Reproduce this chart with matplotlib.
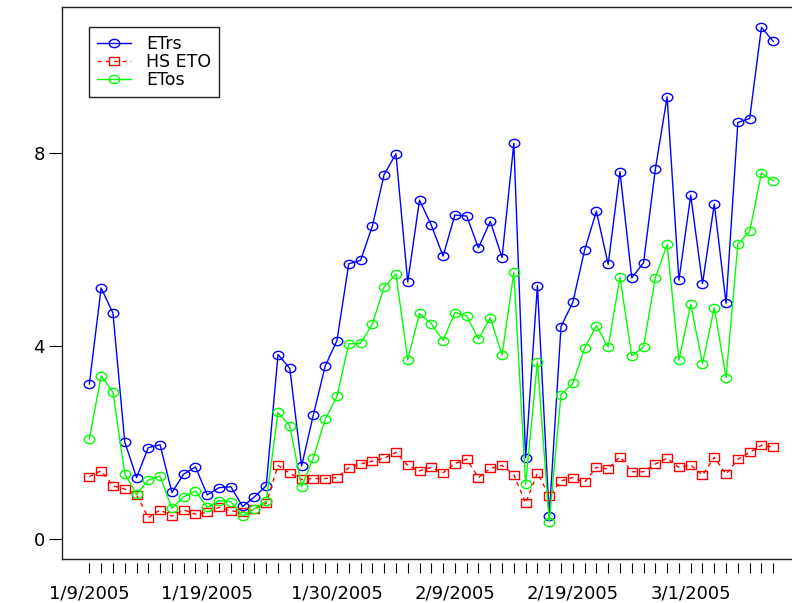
import numpy as np
import matplotlib
matplotlib.use("Agg")
import matplotlib.pyplot as plt
from matplotlib.path import Path
from matplotlib.transforms import Affine2D

# ---- data (daily, 1/9/2005 .. 3/8/2005) ----
etrs = [3.22, 5.21, 4.69, 2.02, 1.28, 1.90, 1.96, 0.97, 1.35, 1.50,
        0.92, 1.07, 1.09, 0.68, 0.88, 1.11, 3.83, 3.54, 1.52, 2.58,
        3.59, 4.12, 5.71, 5.78, 6.49, 7.56, 7.99, 5.33, 7.03, 6.51,
        5.87, 6.72, 6.70, 6.04, 6.59, 5.84, 8.21, 1.69, 5.26, 0.48,
        4.41, 4.91, 5.99, 6.80, 5.70, 7.62, 5.42, 5.73, 7.67, 9.17,
        5.37, 7.13, 5.30, 6.95, 4.89, 8.64, 8.72, 10.61, 10.32]
hs_eto = [1.30, 1.42, 1.11, 1.04, 0.92, 0.45, 0.61, 0.48, 0.61, 0.52,
          0.56, 0.66, 0.59, 0.56, 0.62, 0.75, 1.53, 1.37, 1.24, 1.26,
          1.26, 1.28, 1.48, 1.56, 1.62, 1.68, 1.80, 1.53, 1.42, 1.49,
          1.38, 1.57, 1.66, 1.28, 1.47, 1.53, 1.34, 0.75, 1.37, 0.90,
          1.21, 1.28, 1.18, 1.49, 1.46, 1.71, 1.40, 1.40, 1.56, 1.68,
          1.49, 1.54, 1.33, 1.70, 1.35, 1.66, 1.80, 1.95, 1.91]
etos = [2.08, 3.39, 3.05, 1.36, 0.93, 1.23, 1.31, 0.64, 0.88, 1.00,
        0.66, 0.80, 0.78, 0.48, 0.63, 0.79, 2.63, 2.35, 1.09, 1.69,
        2.49, 2.96, 4.05, 4.06, 4.46, 5.23, 5.50, 3.72, 4.68, 4.47,
        4.12, 4.70, 4.63, 4.15, 4.59, 3.82, 5.53, 1.14, 3.68, 0.36,
        3.00, 3.23, 3.96, 4.43, 3.98, 5.43, 3.80, 3.99, 5.42, 6.11,
        3.71, 4.87, 3.64, 4.80, 3.35, 6.12, 6.38, 7.59, 7.43]
date_labels = ["1/9/2005", "1/19/2005", "1/30/2005", "2/9/2005", "2/19/2005", "3/1/2005"]
date_label_pos = [1, 11, 22, 32, 42, 52]
y_ticks = [0, 4, 8]
series_names = ["ETrs", "HS ETO", "ETos"]

x = np.arange(1, len(etrs) + 1)

# stretched markers (reference image is horizontally stretched)
ell = Path.unit_circle().transformed(Affine2D().scale(1.0, 0.78))
sq = Path([(-1, -0.78), (1, -0.78), (1, 0.78), (-1, 0.78), (-1, -0.78)],
          [Path.MOVETO, Path.LINETO, Path.LINETO, Path.LINETO, Path.CLOSEPOLY])

plt.rcParams['font.family'] = ['DejaVu Sans']
fig = plt.figure(figsize=(7.92, 6.03), dpi=100)
ax = fig.add_axes([62.0 / 792, (603 - 559.3) / 603, 738.6 / 792, 552.0 / 603])

ms = 7.6
mew = 1.0
ax.plot(x, etrs, color='#0000FF', lw=1.0, marker=ell, ms=ms, mfc='none', mew=mew,
        label=series_names[0])
ax.plot(x, hs_eto, color='#FF0000', lw=1.0, ls=(0, (3, 3)), marker=sq, ms=ms, mfc='none',
        mew=mew, label=series_names[1])
ax.plot(x, etos, color='#00FF00', lw=1.0, marker=ell, ms=ms, mfc='none', mew=mew,
        label=series_names[2])

n = len(x)
ax.set_xlim(1 - 0.04 * (n - 1), n + 0.04 * (n - 1))
ax.set_ylim(-0.4145, 11.026)

ax.set_xticks(x)
lab = [""] * n
for p, t in zip(date_label_pos, date_labels):
    lab[p - 1] = t
ax.set_xticklabels(lab)
ax.set_yticks(y_ticks)
ax.set_yticklabels([str(v) for v in y_ticks])

ax.tick_params(axis='x', direction='out', length=7.2, width=0.8, pad=8.5,
               labelsize=13, colors='black')
ax.tick_params(axis='y', direction='out', length=9.4, width=0.8, pad=3,
               labelsize=13, colors='black')

for s in ['left', 'top', 'right']:
    ax.spines[s].set_color('#222222')
    ax.spines[s].set_linewidth(1.0)
ax.spines['bottom'].set_position(('outward', 2.5))
ax.spines['bottom'].set_color('none')
ax.plot([0, 1], [0, 0], transform=ax.transAxes, clip_on=False, color='#222222', lw=1.0)

leg = ax.legend(loc='upper left', bbox_to_anchor=(89.3 / 792, 1 - 27.3 / 603),
                bbox_transform=fig.transFigure, borderaxespad=0, fontsize=12.5,
                handlelength=1.96, handletextpad=0.86, borderpad=0.45,
                labelspacing=0.0, fancybox=False, framealpha=1, edgecolor='#222222')
leg.get_frame().set_linewidth(1.0)

fig.savefig('out.png', dpi=100)
